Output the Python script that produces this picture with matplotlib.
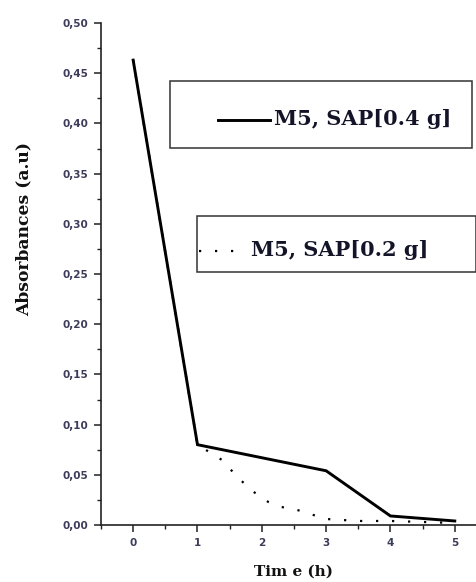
import matplotlib
matplotlib.use("Agg")
import matplotlib.pyplot as plt
from matplotlib.patches import Rectangle
from matplotlib.lines import Line2D
from matplotlib.ticker import MultipleLocator, FuncFormatter

# ---- data ----
time_04 = [0, 1, 3, 4, 5]
abs_04 = [0.463, 0.080, 0.054, 0.009, 0.004]

time_02 = [0, 1, 1.4, 1.6, 1.85, 2.1, 2.3, 2.55, 2.8, 3.0, 3.5, 4.0, 4.5, 5.0]
abs_02 = [0.463, 0.080, 0.064, 0.049, 0.034, 0.023, 0.018, 0.015, 0.010,
          0.006, 0.004, 0.004, 0.003, 0.002]

label_04 = "M5, SAP[0.4 g]"
label_02 = "M5, SAP[0.2 g]"
xlabel = "Tim e (h)"
ylabel = "Absorbances (a.u)"

W, H = 477, 582
fig = plt.figure(figsize=(W / 100, H / 100), dpi=100)


def fx(px):
    return px / W


def fy(py):
    return 1 - py / H


ax = fig.add_axes([fx(101), fy(525), fx(476) - fx(101), fy(23) - fy(525)])

tick_color = "#3c3c5a"
serif = ["DejaVu Serif"]

ax.plot(time_04, abs_04, color="black", lw=2.1, solid_joinstyle="miter")
ax.plot(time_02, abs_02, color="black", lw=1.6, linestyle=(0, (1, 6.2)))

ax.set_xlim(-0.5, 5.33)
ax.set_ylim(0, 0.5)
ax.spines["top"].set_visible(False)
ax.spines["right"].set_visible(False)
for s in ("left", "bottom"):
    ax.spines[s].set_linewidth(1.2)
    ax.spines[s].set_color("#222222")

ax.xaxis.set_major_locator(MultipleLocator(1))
ax.xaxis.set_minor_locator(MultipleLocator(0.5))
ax.yaxis.set_major_locator(MultipleLocator(0.05))
ax.yaxis.set_minor_locator(MultipleLocator(0.025))
ax.yaxis.set_major_formatter(FuncFormatter(lambda v, p: f"{v:.2f}".replace(".", ",")))
ax.xaxis.set_major_formatter(FuncFormatter(lambda v, p: f"{v:.0f}"))

ax.tick_params(which="major", direction="out", length=5, width=1.1, color="#222222",
               labelsize=7.5, labelcolor=tick_color, pad=4)
ax.tick_params(which="minor", direction="out", length=3, width=1.0, color="#222222")
for lab in ax.get_xticklabels() + ax.get_yticklabels():
    lab.set_fontweight("bold")
    lab.set_family("DejaVu Sans")

fig.text(fx(24), fy(229), ylabel, rotation=90, ha="center", va="center",
         fontsize=12.3, fontweight="bold", family=serif, color="#111111")
fig.text(fx(294), fy(572), xlabel, ha="center", va="center",
         fontsize=11, fontweight="bold", family=serif, color="#111111")

# ---- legend boxes ----
def legbox(x0, y0, x1, y1):
    fig.patches.append(Rectangle((fx(x0), fy(y1)), fx(x1) - fx(x0), fy(y0) - fy(y1),
                                 transform=fig.transFigure, fill=False,
                                 edgecolor="#333333", lw=1.1))


legbox(170, 81, 472, 148)
fig.lines.append(Line2D([fx(218), fx(270)], [fy(120), fy(120)], transform=fig.transFigure,
                        color="black", lw=2.1))
fig.text(fx(274), fy(119), label_04, ha="left", va="center", fontsize=15,
         fontweight="bold", family=serif, color="#141428")

legbox(197, 216, 476, 272)
fig.lines.append(Line2D([fx(199), fx(246)], [fy(251), fy(251)], transform=fig.transFigure,
                        color="black", lw=1.6, linestyle=(0, (1, 6.2))))
fig.text(fx(251), fy(250), label_02, ha="left", va="center", fontsize=15,
         fontweight="bold", family=serif, color="#141428")

fig.savefig("out.png", dpi=100)
